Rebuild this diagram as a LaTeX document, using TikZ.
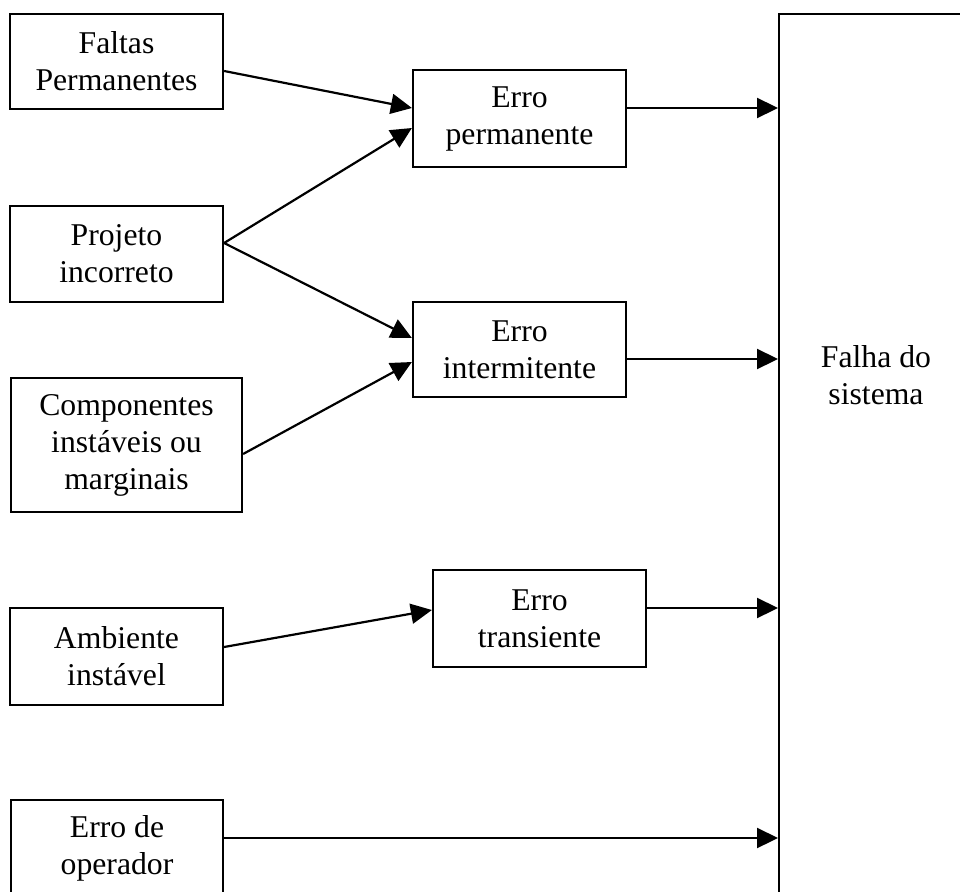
\documentclass[tikz,border=0pt]{standalone}
\usepackage{fontspec}
\setmainfont{Liberation Serif}
\usetikzlibrary{arrows.meta}

\tikzset{
  box/.style={draw, line width=2.2pt, rectangle, inner sep=0pt, align=center,
              font=\fontsize{31.7}{37}\selectfont},
  label/.style={inner sep=0pt, align=center, font=\fontsize{31.7}{37}\selectfont},
  arr/.style={line width=2.2pt, -{Triangle[length=21pt,width=20pt]}}
}

\begin{document}
\begin{tikzpicture}[x=1pt, y=-1pt]
  \clip (0,0) rectangle (960,891);
  \fill[white] (0,0) rectangle (960,891);

  % causes
  \node[box, minimum width=213pt, minimum height=95pt] (faltas) at (116.5,61.5) {Faltas\\Permanentes};
  \node[box, minimum width=213pt, minimum height=96pt] (projeto) at (116.5,254) {Projeto\\incorreto};
  \node[box, minimum width=231pt, minimum height=134pt] (comp) at (126.5,445) {Componentes\\instáveis ou\\marginais};
  \node[box, minimum width=213pt, minimum height=97pt] (amb) at (116.5,656.5) {Ambiente\\instável};
  \node[box, minimum width=212pt, minimum height=97pt] (oper) at (117,848.5) {Erro de\\operador};

  % error kinds
  \node[box, minimum width=213pt, minimum height=97pt] (perm) at (519.5,118.5) {Erro\\permanente};
  \node[box, minimum width=213pt, minimum height=95pt] (inter) at (519.5,349.5) {Erro\\intermitente};
  \node[box, minimum width=213pt, minimum height=97pt] (trans) at (539.5,618.5) {Erro\\transiente};

  % system failure
  \node[box, anchor=north west, minimum width=300pt, minimum height=1000pt] (falha) at (778,13) {};
  \node[label] (falhatxt) at (876,375) {Falha do\\sistema};

  % causes -> errors
  \draw[arr] ([yshift=-9.5pt]faltas.east) -- ([yshift=10.5pt]perm.west);
  \draw[arr] ([yshift=11pt]projeto.east) -- ([yshift=-9.5pt]perm.west);
  \draw[arr] ([yshift=11pt]projeto.east) -- ([yshift=11.5pt]inter.west);
  \draw[arr] ([yshift=-9pt]comp.east) -- ([yshift=-12.5pt]inter.west);
  \draw[arr] ([yshift=9.5pt]amb.east) -- ([yshift=8.5pt]trans.west);

  % errors -> failure
  \coordinate (o1) at ([yshift=10.5pt]perm.east);
  \coordinate (o2) at ([yshift=-9.5pt]inter.east);
  \coordinate (o3) at ([yshift=10.5pt]trans.east);
  \coordinate (o4) at ([yshift=10.5pt]oper.east);
  \draw[arr] (o1) -- (o1 -| falha.west);
  \draw[arr] (o2) -- (o2 -| falha.west);
  \draw[arr] (o3) -- (o3 -| falha.west);
  \draw[arr] (o4) -- (o4 -| falha.west);
\end{tikzpicture}
\end{document}
